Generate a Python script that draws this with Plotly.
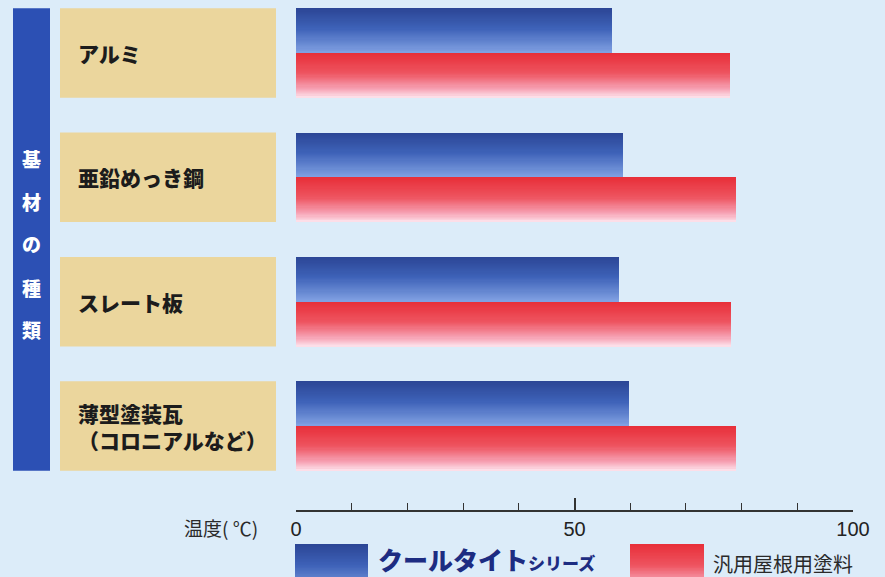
import plotly.graph_objects as go

# ---- data -------------------------------------------------------------
substrates = ["アルミ", "亜鉛めっき鋼", "スレート板", "薄型塗装瓦<br>（コロニアルなど）"]
cooltite_temp = [56.7, 58.7, 58.0, 59.8]      # クールタイトシリーズ
generic_temp = [77.9, 79.0, 78.1, 79.0]       # 汎用屋根用塗料
x_ticks = [0, 50, 100]
side_title = ["基", "材", "の", "種", "類"]

# ---- page geometry ----------------------------------------------------
W, H = 885, 577
ML, MR, MT, MB = 296, 32, 0, 67
PW, PH = W - ML - MR, H - MT - MB


def px_x(px):
    return (px - ML) / PW


def px_y(py):
    return (H - MB - py) / PH


BG = "#dcecf9"
TAN = "#ebd69d"
STRIPE = "#2c50b4"
HALF = 0.36          # half of each bar pair's height, in category units
N = 40               # gradient steps per bar

blue_stops = [(0.0, (44, 70, 150)), (0.45, (62, 98, 184)), (1.0, (128, 160, 226))]
red_stops = [(0.0, (232, 48, 58)), (0.45, (238, 84, 96)), (0.8, (246, 160, 178)), (1.0, (253, 222, 232))]


def grad(stops, t):
    for (t0, c0), (t1, c1) in zip(stops[:-1], stops[1:]):
        if t <= t1:
            f = (t - t0) / (t1 - t0) if t1 > t0 else 0
            return "rgb(%d,%d,%d)" % tuple(round(a + (b - a) * f) for a, b in zip(c0, c1))
    return "rgb(%d,%d,%d)" % stops[-1][1]


pos = list(range(len(substrates)))
fig = go.Figure()

# Each bar is painted as overlapping strips, each one starting lower and
# reaching the bar's bottom edge, which gives a seamless vertical gradient.
for values, stops, start in ((cooltite_temp, blue_stops, -HALF), (generic_temp, red_stops, 0.0)):
    for i in range(N):
        t = i / (N - 1)
        off = start + HALF * i / N
        fig.add_trace(go.Bar(
            x=values, y=pos, orientation="h",
            offset=off, width=start + HALF - off,
            marker=dict(color=grad(stops, t), line=dict(width=0)),
            hoverinfo="skip", showlegend=False,
        ))

shapes = []
annotations = []

# Category label panels
for p, name in zip(pos, substrates):
    shapes.append(dict(type="rect", xref="paper", yref="y",
                       x0=px_x(60), x1=px_x(276), y0=p - HALF, y1=p + HALF,
                       fillcolor=TAN, line=dict(width=0), layer="below"))
    annotations.append(dict(xref="paper", yref="y", x=px_x(76), y=p,
                            text=name, showarrow=False, xanchor="left", yanchor="middle",
                            align="left",
                            font=dict(family="Noto Sans CJK JP", size=21, color="#1c1c1c", weight=900)))

# Vertical side title
shapes.append(dict(type="rect", xref="paper", yref="y",
                   x0=px_x(13), x1=px_x(50), y0=pos[0] - HALF, y1=pos[-1] + HALF,
                   fillcolor=STRIPE, line=dict(width=0), layer="below"))
for i, ch in enumerate(side_title):
    annotations.append(dict(xref="paper", yref="paper", x=px_x(31.5), y=px_y(158 + 43 * i),
                            text=ch, showarrow=False, xanchor="center", yanchor="middle",
                            font=dict(family="Noto Sans CJK JP", size=19, color="white", weight=900)))

# Axis unit label
annotations.append(dict(xref="paper", yref="paper", x=px_x(182), y=px_y(527),
                        text="温度( ℃)", showarrow=False, xanchor="left", yanchor="middle",
                        font=dict(family="Noto Sans CJK JP", size=19, color="#2a2a2a")))

# Legend swatches (gradient strips) and labels
for x0, x1, stops in ((295, 368, blue_stops), (630, 704, red_stops)):
    top, bot = 544, 580
    M = 24
    for i in range(M):
        ya = top + (bot - top) * i / M
        yb = top + (bot - top) * (i + 1) / M + 0.6
        shapes.append(dict(type="rect", xref="paper", yref="paper",
                           x0=px_x(x0), x1=px_x(x1), y0=px_y(yb), y1=px_y(ya),
                           fillcolor=grad(stops, i / (M - 1) * 0.75), line=dict(width=0)))

annotations.append(dict(xref="paper", yref="paper", x=px_x(376), y=px_y(559),
                        text="クールタイト<span style='font-size:17px'>シリーズ</span>",
                        showarrow=False, xanchor="left", yanchor="middle",
                        font=dict(family="Noto Sans CJK JP", size=25, color="#1d2c82", weight=900)))
annotations.append(dict(xref="paper", yref="paper", x=px_x(711), y=px_y(563),
                        text="汎用屋根用塗料", showarrow=False, xanchor="left", yanchor="middle",
                        font=dict(family="Noto Sans CJK JP", size=20, color="#2a2a2a")))

fig.update_layout(
    width=W, height=H,
    margin=dict(l=ML, r=MR, t=MT, b=MB, pad=0),
    paper_bgcolor=BG, plot_bgcolor=BG,
    barmode="overlay", bargap=0,
    shapes=shapes, annotations=annotations,
    xaxis=dict(range=[0, 100], tickvals=x_ticks, ticktext=[str(v) for v in x_ticks],
               showgrid=False, zeroline=False, showline=True, linecolor="#333333", linewidth=1.5,
               ticks="inside", ticklen=12, tickwidth=1.5, tickcolor="#333333",
               minor=dict(dtick=10, ticks="inside", ticklen=7, tickwidth=1.3, tickcolor="#333333"),
               tickfont=dict(family="Liberation Sans Narrow, Arial Narrow, sans-serif", size=20, color="#222222"),
               fixedrange=True),
    yaxis=dict(range=[3 + (H - MB - 426) / 124.33, -53 / 124.33], showticklabels=False,
               showgrid=False, zeroline=False, showline=False, ticks="", fixedrange=True),
)

fig.write_html("out.html")
